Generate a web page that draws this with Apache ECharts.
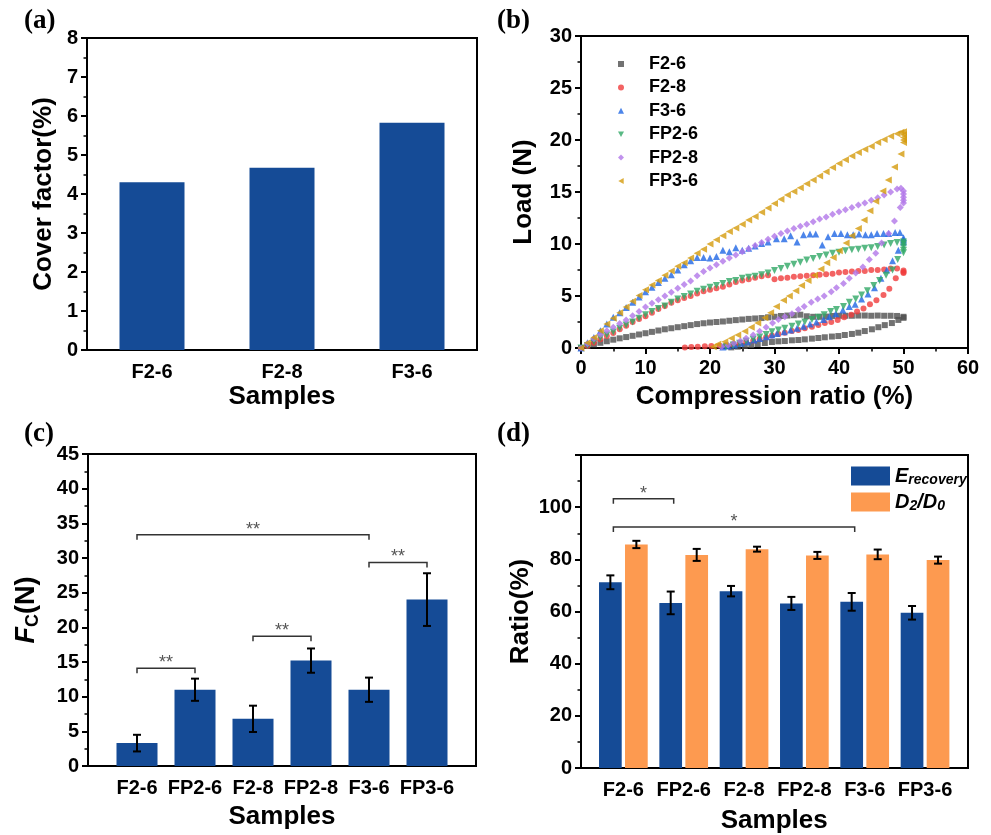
<!DOCTYPE html>
<html>
<head>
<meta charset="utf-8">
<script src="https://cdn.jsdelivr.net/npm/echarts@6/dist/echarts.min.js"></script>
<style>html,body{margin:0;padding:0;background:#fff;}#c{width:991px;height:835px;}</style>
</head>
<body>
<div id="c"></div>
<script>
// ---------- (a) cover factor ----------
const catsA = ['F2-6', 'F2-8', 'F3-6'];
const coverFactor = [4.3, 4.67, 5.83];

// ---------- (b) load vs compression ratio ----------
const f26Load = [[0,0],[1,0.2],[2,0.35],[3,0.5],[4,0.65],[5,0.8],[6,0.93],[7,1.05],[8,1.17],[9,1.3],[10,1.42],[11,1.55],[12,1.68],[13,1.8],[14,1.9],[15,2.0],[16,2.1],[17,2.2],[18,2.3],[19,2.38],[20,2.45],[21,2.5],[22,2.55],[23,2.62],[24,2.68],[25,2.74],[26,2.8],[27,2.84],[28,2.88],[29,2.95],[30,3.0],[31,3.08],[32,3.12],[33,3.15],[34,3.2],[35,3.05],[36,3.0],[37,3.0],[38,3.02],[39,3.08],[40,3.1],[41,3.1],[42,3.1],[43,3.12],[44,3.12],[45,3.1],[46,3.12],[47,3.1],[48,3.1],[49,3.08],[50,3.0]];
const f26Unload = [[50,2.9],[49.2,2.7],[48.2,2.4],[47.1,2.2],[46.1,2.0],[45.1,1.8],[44,1.63],[43,1.47],[42,1.35],[40.9,1.25],[39.9,1.15],[38.9,1.1],[37.8,1.03],[36.8,0.96],[35.8,0.9],[34.7,0.83],[33.7,0.77],[32.7,0.74],[31.6,0.67],[30.6,0.64],[29.6,0.58],[28.5,0.48],[27.4,0.38],[26.4,0.28],[25.4,0.2],[24.3,0.13],[23.3,0.06]];
const f28Load = [[0,0],[1,0.2],[2,0.5],[3,0.85],[4,1.15],[5,1.45],[6,1.8],[7,2.15],[8,2.5],[9,2.8],[10,3.05],[11,3.4],[12,3.75],[13,4.05],[14,4.35],[15,4.6],[16,4.8],[17,5.0],[18,5.25],[19,5.45],[20,5.6],[21,5.75],[22,5.9],[23,6.1],[24,6.35],[25,6.5],[26,6.6],[27,6.75],[28,6.9],[29,7.0],[30,6.6],[31,6.7],[32,6.75],[33,6.85],[34,6.9],[35,6.95],[36,7.0],[37,7.05],[38,7.1],[39,7.15],[40,7.25],[41,7.3],[42,7.35],[43,7.4],[44,7.4],[45,7.5],[46,7.5],[47,7.55],[48,7.65],[49,7.65],[50,7.45]];
const f28Unload = [[50,7.3],[50,7.2],[48.8,6.7],[47.8,5.7],[46.9,5.1],[45.8,4.6],[44.8,4.2],[43.8,3.8],[42.8,3.5],[41.9,3.2],[40.8,2.95],[39.8,2.7],[38.8,2.5],[37.8,2.4],[36.8,2.2],[35.8,2.05],[34.7,1.9],[33.7,1.73],[32.7,1.63],[31.6,1.47],[30.6,1.35],[29.6,1.2],[28.7,1.03],[27.7,0.87],[26.7,0.7],[25.6,0.6],[24.6,0.45],[23.6,0.35],[22.5,0.26],[21.5,0.22],[20.2,0.19],[19.2,0.16],[18.1,0.13],[17.1,0.1],[16.1,0.06]];
const f36Load = [[0,0],[1,0.5],[2,1.0],[3,1.65],[4,2.3],[5,2.95],[6,3.4],[7,3.9],[8,4.4],[9,4.9],[10,5.4],[11,5.85],[12,6.3],[13,6.7],[14,7.05],[15,7.5],[16,8.0],[17,8.4],[18,8.7],[19,8.7],[20,8.65],[21,8.8],[22,9.4],[23,9.25],[24,9.65],[25,9.4],[26,9.6],[27,9.8],[28,10.05],[29,10.2],[30.3,10.5],[31.5,10.5],[32.5,10.8],[33.5,10.2],[34.5,10.9],[35.5,10.95],[36.4,10.95],[37.4,9.9],[38.3,10.7],[39.3,11.0],[40.3,11.0],[41.3,10.9],[42.2,10.9],[43.1,10.95],[44.1,10.9],[45,10.9],[45.9,11.0],[46.9,11.0],[47.7,11.0],[48.7,11.1],[49.45,11.1]];
const f36Unload = [[50,10.6],[50,10.4],[50,10.2],[49.2,9.4],[48.3,8.4],[47.4,7.5],[46.5,6.7],[45.5,5.8],[44.5,5.2],[43.5,4.7],[42.5,4.2],[41.6,4.0],[40.6,3.65],[39.5,3.3],[38.5,3.0],[37.6,2.75],[36.5,2.5],[35.5,2.3],[34.5,2.1],[33.5,1.9],[32.5,1.73],[31.5,1.57],[30.4,1.4],[29.6,1.25],[28.7,1.08],[27.7,0.92],[26.8,0.77],[25.8,0.6],[24.8,0.45],[23.8,0.3],[22.8,0.2],[22,0.1]];
const fp26Load = [[0,0],[1,0.25],[2,0.6],[3,0.95],[4,1.25],[5,1.55],[6,1.9],[7,2.2],[8,2.5],[9,2.85],[10,3.2],[11,3.5],[12,3.8],[13,4.05],[14,4.4],[15,4.7],[16,4.95],[17,5.2],[18,5.45],[19,5.65],[20,5.85],[21,6.0],[22,6.2],[23,6.4],[24,6.5],[25,6.7],[26,6.8],[27,6.9],[28,7.05],[29,7.2],[30,7.45],[31,7.65],[32,7.85],[33,8.05],[34,8.25],[35,8.45],[36,8.6],[37,8.8],[38,8.95],[39,9.1],[40,9.2],[41,9.35],[42,9.45],[43,9.5],[44,9.6],[45,9.65],[46,9.75],[47,9.9],[48,10.05],[49,10.15],[50,10.2]];
const fp26Unload = [[50,10.0],[50,9.7],[50,9.4],[50,9.15],[49.1,8.5],[48.3,7.5],[47.3,7.0],[46.3,6.5],[45.4,6.0],[44.4,5.5],[43.5,5.1],[42.6,4.7],[41.6,4.4],[40.7,4.0],[39.6,3.7],[38.7,3.5],[37.7,3.2],[36.8,2.95],[35.8,2.75],[34.7,2.5],[33.7,2.3],[32.7,2.1],[31.6,1.9],[30.6,1.73],[29.6,1.57],[28.7,1.3],[27.7,1.05],[26.7,0.85],[25.6,0.64],[24.6,0.45],[23.6,0.29],[22.5,0.13]];
const fp28Load = [[0,0],[1,0.4],[2,0.9],[3,1.3],[4,1.65],[5,2.0],[6,2.35],[7,2.7],[8,3.1],[9,3.5],[10,3.95],[11,4.3],[12,4.65],[13,5.0],[14,5.35],[15,5.75],[16,6.1],[17,6.45],[18,6.95],[19,7.35],[20,7.7],[21,8.0],[22,8.35],[23,8.65],[24,8.95],[25,9.25],[26,9.55],[27,9.85],[28,10.15],[29,10.45],[30,10.75],[31,11.0],[32,11.25],[33,11.5],[34,11.7],[35,11.9],[36,12.15],[37,12.4],[38,12.6],[39,12.85],[40,13.1],[41,13.3],[42,13.5],[43,13.75],[44,13.95],[45,14.2],[46,14.45],[47,14.7],[48,15.0],[49,15.3],[49.6,15.35]];
const fp28Unload = [[50,15.1],[50,14.8],[50,14.5],[50,14.2],[50,13.95],[49.5,13.5],[48.6,12.2],[47.7,11.0],[46.6,10.1],[45.7,9.1],[44.7,8.5],[43.7,7.8],[42.6,7.2],[41.6,6.7],[40.7,6.2],[39.6,5.8],[38.8,5.4],[37.7,5.0],[36.7,4.7],[35.7,4.4],[34.6,4.0],[33.7,3.7],[32.7,3.3],[31.6,3.0],[30.6,2.75],[29.7,2.4],[28.7,2.0],[27.7,1.6],[26.7,1.25],[25.6,0.93],[24.7,0.67],[23.7,0.45],[22.8,0.26],[21.8,0.13]];
const fp36Load = [[0,0],[1,0.5],[2,1.0],[3,1.65],[4,2.3],[5,2.85],[6,3.4],[7,3.95],[8,4.5],[9,5.05],[10,5.6],[11,6.05],[12,6.5],[13,7.0],[14,7.4],[15,7.85],[16,8.2],[17,8.65],[18,9.1],[19,9.5],[20,10.0],[21,10.4],[22,10.8],[23,11.2],[24,11.55],[25,11.9],[26,12.3],[27,12.65],[28,13.05],[29,13.45],[30,13.9],[31,14.3],[32,14.7],[33,15.05],[34,15.4],[35,15.8],[36,16.15],[37,16.55],[38,16.95],[39,17.35],[40,17.75],[41,18.1],[42,18.45],[43,18.8],[44,19.1],[45,19.4],[46,19.75],[47,20.05],[48,20.35],[49,20.6],[49.6,20.75]];
const fp36Unload = [[50,20.8],[50,20.5],[50,20.25],[50,20.0],[50,19.75],[49.6,18.65],[48.6,17.4],[47.65,16.15],[46.8,15.1],[45.7,14.1],[44.8,13.2],[43.9,12.3],[43,11.5],[42,10.8],[41.1,10.1],[40.05,9.36],[39.1,8.7],[38.1,8.2],[37.2,7.6],[36.2,7.0],[35.2,6.5],[34.2,6.0],[33.3,5.5],[32.3,5.0],[31.4,4.6],[30.3,4.0],[29.4,3.4],[28.5,2.9],[27.4,2.4],[26.4,2.0],[25.4,1.6],[24.3,1.25],[23.3,0.93],[22.3,0.6],[21.2,0.35],[20.5,0.13]];

// ---------- (c) Fc ----------
const catsCD = ['F2-6', 'FP2-6', 'F2-8', 'FP2-8', 'F3-6', 'FP3-6'];
const fcMean = [3.3, 11.0, 6.8, 15.2, 11.0, 24.0];
const fcSd = [1.2, 1.6, 1.9, 1.75, 1.75, 3.8];
const bracketsC = [[0, 1, 14.1, '**'], [2, 3, 18.7, '**'], [0, 4, 33.35, '**'], [4, 5, 29.35, '**']];

// ---------- (d) ratios ----------
const eRecovery = [71.2, 63.3, 67.8, 63.1, 63.7, 59.5];
const eRecoverySd = [2.65, 4.35, 2.0, 2.5, 3.4, 2.6];
const d2d0 = [85.7, 81.7, 83.9, 81.5, 81.9, 79.7];
const d2d0Sd = [1.4, 2.3, 0.95, 1.35, 1.85, 1.35];
const bracketsD = [[0, 1, 103.2, '*'], [0, 4, 92.4, '*']];

// ---------- styling ----------
const FONT = '"Liberation Sans", Arial, Helvetica, sans-serif';
const BLUE = '#154b96', ORANGE = '#fd9a50';
const BAR_D = 22.7, GAP_D = 3.3;
const ICON_DOWN = 'path://M0,0L10,0L5,9Z';
const ICON_LEFT = 'path://M9,0L9,10L0,5Z';

const axisLineStyle = { show: true, lineStyle: { color: '#000', width: 2 } };
const labelStyle = { color: '#000', fontFamily: FONT, fontWeight: 'bold', fontSize: 20 };
const nameStyle = { color: '#000', fontFamily: FONT, fontWeight: 'bold', fontSize: 26 };
const tickOut = { show: true, inside: false, length: 6, lineStyle: { color: '#000', width: 2 } };
const minorOut = { show: true, splitNumber: 2, length: 3.5, lineStyle: { color: '#000', width: 1.5 } };

function valueY(gi, min, max, interval, name, gap, extra) {
  return Object.assign({
    type: 'value', gridIndex: gi, min: min, max: max, interval: interval,
    axisLine: axisLineStyle, axisTick: tickOut, minorTick: minorOut,
    splitLine: { show: false }, minorSplitLine: { show: false },
    axisLabel: Object.assign({ margin: 9 }, labelStyle),
    name: name, nameLocation: 'middle', nameGap: gap, nameRotate: 90, nameTextStyle: nameStyle
  }, extra || {});
}
function hiddenAxis(gi, type, min, max, data) {
  const a = { type: type, gridIndex: gi, show: false, splitLine: { show: false } };
  if (type === 'value') { a.min = min; a.max = max; } else { a.data = data; }
  return a;
}
function catX(gi, data, gap) {
  return {
    type: 'category', gridIndex: gi, data: data,
    axisLine: { show: false }, axisTick: { show: false },
    axisLabel: Object.assign({ margin: 12, interval: 0 }, labelStyle),
    name: 'Samples', nameLocation: 'middle', nameGap: gap, nameTextStyle: nameStyle
  };
}

function errorSeries(xi, yi, mean, sd, offset) {
  return {
    type: 'custom', xAxisIndex: xi, yAxisIndex: yi, z: 5, silent: true,
    data: mean.map((m, i) => [i, m - sd[i], m + sd[i]]),
    renderItem: function (params, api) {
      const lo = api.coord([api.value(0), api.value(1)]);
      const hi = api.coord([api.value(0), api.value(2)]);
      const x = lo[0] + offset, cw = 4;
      const st = { stroke: '#000', lineWidth: 2 };
      return { type: 'group', children: [
        { type: 'line', shape: { x1: x, y1: lo[1], x2: x, y2: hi[1] }, style: st },
        { type: 'line', shape: { x1: x - cw, y1: lo[1], x2: x + cw, y2: lo[1] }, style: st },
        { type: 'line', shape: { x1: x - cw, y1: hi[1], x2: x + cw, y2: hi[1] }, style: st }
      ] };
    }
  };
}
function bracketSeries(xi, yi, list, offset) {
  return {
    type: 'custom', xAxisIndex: xi, yAxisIndex: yi, z: 6, silent: true,
    data: list.map(b => [b[0], b[1], b[2]]),
    renderItem: function (params, api) {
      const a = api.coord([api.value(0), api.value(2)]);
      const b = api.coord([api.value(1), api.value(2)]);
      const x1 = a[0] + offset, x2 = b[0] + offset, y = a[1], drop = 5;
      return { type: 'group', children: [
        { type: 'polyline', shape: { points: [[x1, y + drop], [x1, y], [x2, y], [x2, y + drop]] },
          style: { stroke: '#333', lineWidth: 1.5, fill: null } },
        { type: 'text', x: (x1 + x2) / 2, y: y - 5,
          style: { text: list[params.dataIndex][3], fill: '#555', font: '18px ' + FONT, align: 'center', verticalAlign: 'middle' } }
      ] };
    }
  };
}
function scatter(name, load, unload, symbol, color, rot, size) {
  return {
    type: 'scatter', name: name, xAxisIndex: 1, yAxisIndex: 1,
    data: load.concat(unload), symbol: symbol, symbolRotate: rot, symbolSize: size,
    itemStyle: { color: color }
  };
}

const chart = echarts.init(document.getElementById('c'), null, { renderer: 'canvas' });
const panelTitle = (t, l, tp) => ({ text: t, left: l, top: tp, padding: 0,
  textStyle: { fontFamily: '"Liberation Serif", "Times New Roman", serif', fontWeight: 'bold', fontSize: 27, color: '#000' } });

chart.setOption({
  animation: false,
  backgroundColor: '#fff',
  title: [panelTitle('(a)', 24, 8), panelTitle('(b)', 497, 8), panelTitle('(c)', 24, 421), panelTitle('(d)', 497, 421)],
  legend: [
    {
      data: [
        { name: 'F2-6', icon: 'rect' },
        { name: 'F2-8', icon: 'circle' },
        { name: 'F3-6', icon: 'triangle' },
        { name: 'FP2-6', icon: ICON_DOWN },
        { name: 'FP2-8', icon: 'diamond' },
        { name: 'FP3-6', icon: ICON_LEFT }
      ],
      orient: 'vertical', left: 613, top: 50, itemWidth: 6, itemHeight: 6, itemGap: 5.4,
      textStyle: { fontFamily: FONT, fontWeight: 'bold', fontSize: 18, color: '#000', lineHeight: 18, padding: [0, 0, 0, 20] },
      selectedMode: false
    },
    {
      data: ['Erecovery', 'D2/D0'],
      orient: 'vertical', left: 846, top: 461, itemWidth: 39, itemHeight: 19, itemGap: 5, icon: 'rect',
      selectedMode: false,
      formatter: n => n === 'Erecovery' ? '{i|E}{s|recovery}' : '{i|D}{s|2}{i|/D}{s|0}',
      textStyle: { color: '#000', rich: {
        i: { fontFamily: FONT, fontWeight: 'bold', fontStyle: 'italic', fontSize: 20, lineHeight: 22, color: '#000' },
        s: { fontFamily: FONT, fontWeight: 'bold', fontStyle: 'italic', fontSize: 14, lineHeight: 14, verticalAlign: 'bottom', color: '#000' }
      } }
    }
  ],
  grid: [
    { left: 87, top: 38, width: 390, height: 312, show: true, borderColor: '#000', borderWidth: 2 },
    { left: 581, top: 36, width: 387, height: 312, show: true, borderColor: '#000', borderWidth: 2 },
    { left: 88, top: 454, width: 388, height: 312, show: true, borderColor: '#000', borderWidth: 2 },
    { left: 108, top: 454, width: 348, height: 312 },
    { left: 581, top: 455, width: 387, height: 313, show: true, borderColor: '#000', borderWidth: 2 },
    { left: 593.2, top: 455, width: 362, height: 313 }
  ],
  xAxis: [
    Object.assign(catX(0, catsA, 34), { axisLine: axisLineStyle }),
    {
      type: 'value', gridIndex: 1, min: 0, max: 60, interval: 10,
      axisLine: axisLineStyle, axisTick: tickOut, minorTick: minorOut,
      splitLine: { show: false }, minorSplitLine: { show: false },
      axisLabel: Object.assign({ margin: 10 }, labelStyle),
      name: 'Compression ratio (%)', nameLocation: 'middle', nameGap: 36, nameTextStyle: nameStyle
    },
    hiddenAxis(2, 'value', 0, 1),
    catX(3, catsCD, 38),
    hiddenAxis(4, 'value', 0, 1),
    catX(5, catsCD, 40)
  ],
  yAxis: [
    valueY(0, 0, 8, 1, 'Cover factor(%)', 30),
    valueY(1, 0, 30, 5, 'Load (N)', 44),
    valueY(2, 0, 45, 5, '{f|F}{s|C}{n|(N)}', 46, {
      nameTextStyle: { color: '#000', rich: {
        f: { fontFamily: FONT, fontWeight: 'bold', fontStyle: 'italic', fontSize: 27, lineHeight: 30, color: '#000' },
        s: { fontFamily: FONT, fontWeight: 'bold', fontSize: 18, lineHeight: 18, verticalAlign: 'bottom', color: '#000' },
        n: { fontFamily: FONT, fontWeight: 'bold', fontSize: 27, lineHeight: 30, color: '#000' }
      } }
    }),
    hiddenAxis(3, 'value', 0, 45),
    valueY(4, 0, 120, 20, 'Ratio(%)', 47, { axisLabel: Object.assign({ margin: 9, showMaxLabel: false }, labelStyle) }),
    hiddenAxis(5, 'value', 0, 120)
  ],
  series: [
    { type: 'bar', name: 'cover', xAxisIndex: 0, yAxisIndex: 0, data: coverFactor, barWidth: '50%', itemStyle: { color: BLUE } },
    scatter('F2-6', f26Load, f26Unload, 'rect', '#4f4f4f', 0, 6),
    scatter('F2-8', f28Load, f28Unload, 'circle', '#f03c3c', 0, 6),
    scatter('F3-6', f36Load, f36Unload, 'triangle', '#1f66e5', 0, 7),
    scatter('FP2-6', fp26Load, fp26Unload, 'triangle', '#2fa865', 180, 7),
    scatter('FP2-8', fp28Load, fp28Unload, 'diamond', '#b277e8', 0, 7),
    scatter('FP3-6', fp36Load, fp36Unload, 'triangle', '#d49b0c', 90, 7),
    { type: 'bar', name: 'Fc', xAxisIndex: 3, yAxisIndex: 3, data: fcMean, barWidth: 41, itemStyle: { color: BLUE } },
    errorSeries(3, 3, fcMean, fcSd, 0),
    bracketSeries(3, 3, bracketsC, 0),
    { type: 'bar', name: 'Erecovery', xAxisIndex: 5, yAxisIndex: 5, data: eRecovery, barWidth: BAR_D, barGap: (GAP_D / BAR_D * 100) + '%', itemStyle: { color: BLUE } },
    { type: 'bar', name: 'D2/D0', xAxisIndex: 5, yAxisIndex: 5, data: d2d0, barWidth: BAR_D, barGap: (GAP_D / BAR_D * 100) + '%', itemStyle: { color: ORANGE } },
    errorSeries(5, 5, eRecovery, eRecoverySd, -(BAR_D + GAP_D) / 2),
    errorSeries(5, 5, d2d0, d2d0Sd, (BAR_D + GAP_D) / 2),
    bracketSeries(5, 5, bracketsD, -10)
  ]
});
</script>
</body>
</html>
